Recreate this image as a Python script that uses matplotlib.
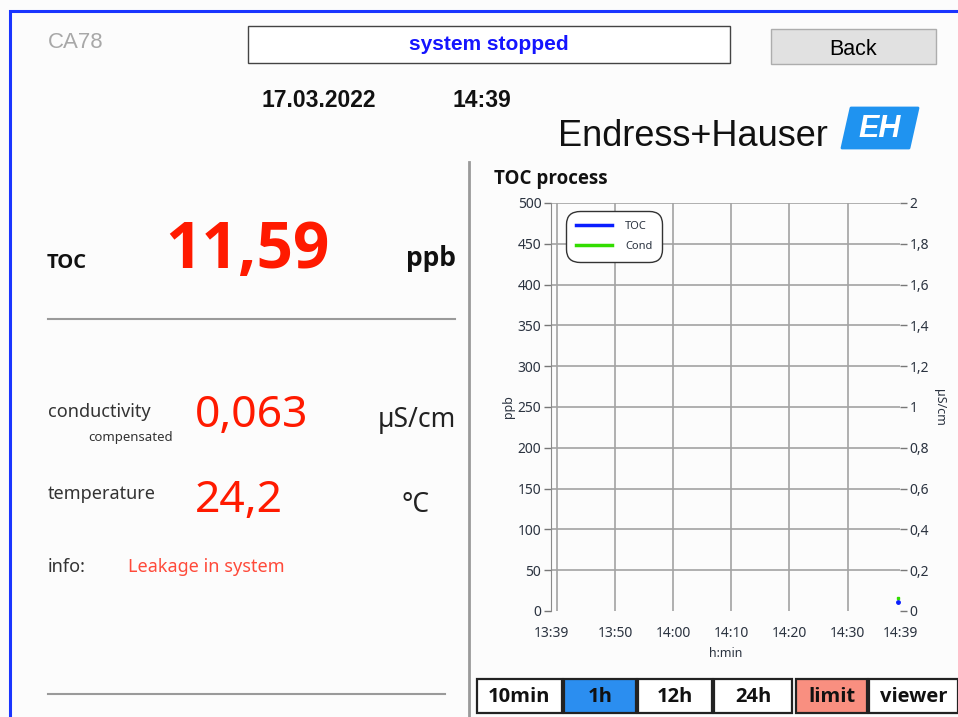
import numpy as np
import matplotlib
matplotlib.use('Agg')
import matplotlib.pyplot as plt
from matplotlib.patches import Rectangle, Polygon
from matplotlib.lines import Line2D
from matplotlib.ticker import FuncFormatter

W, H = 958, 717

# panel readings
device = 'CA78'
status = 'system stopped'
date_str = '17.03.2022'
clock_str = '14:39'
toc_value = '11,59'
toc_unit = 'ppb'
cond_value = '0,063'
cond_unit = 'µS/cm'
temp_value = '24,2'
temp_unit = '°C'
info_text = 'Leakage in system'

# trend chart
start_time = '13:39'
time_labels = ['13:39', '13:50', '14:00', '14:10', '14:20', '14:30', '14:39']
grid_times = ['13:40', '13:50', '14:00', '14:10', '14:20', '14:30']
sample_times = ['14:38:42']
toc_ppb = [11.59]
cond_us = [0.063]
ppb_ticks = [0, 50, 100, 150, 200, 250, 300, 350, 400, 450, 500]
us_ticks = [0, 0.2, 0.4, 0.6, 0.8, 1.0, 1.2, 1.4, 1.6, 1.8, 2.0]

buttons = ['10min', '1h', '12h', '24h', 'limit', 'viewer']
button_fill = ['white', '#2b8ef0', 'white', 'white', '#f98f80', 'white']

UI = 'Noto Sans'
UIB = ['Open Sans', 'DejaVu Sans']
WIN = 'Liberation Sans'


def minutes(t):
    parts = [int(p) for p in t.split(':')]
    while len(parts) < 3:
        parts.append(0)
    h0, m0 = [int(p) for p in start_time.split(':')]
    return (parts[0] - h0) * 60 + (parts[1] - m0) + parts[2] / 60


def comma(v, pos=None):
    s = ('%.1f' % v).rstrip('0').rstrip('.')
    return s.replace('.', ',')


fig = plt.figure(figsize=(W / 100, H / 100), dpi=100, facecolor='#fcfcfc')
bg = fig.add_axes([0, 0, 1, 1])
bg.set_xlim(0, W)
bg.set_ylim(H, 0)
bg.axis('off')

# frame and separators
bg.plot([10, 10, W], [H, 11, 11], color='#1a35ff', lw=2.2, solid_joinstyle='miter')
bg.plot([469, 469], [162, H], color='#9a9a9a', lw=2)
bg.plot([48, 455], [319, 319], color='#9a9a9a', lw=1.5)
bg.plot([48, 445], [694, 694], color='#9a9a9a', lw=1.5)

# header
bg.text(48, 48, device, family=WIN, fontsize=16, color='#a8a8a8')
bg.add_patch(Rectangle((248, 26), 482, 37, facecolor='white', edgecolor='#444444', lw=1))
bg.text(489, 50, status, family=WIN, fontsize=15, fontweight='bold', color='#1515ff', ha='center')
bg.add_patch(Rectangle((771, 29), 165, 35, facecolor='#e1e1e1', edgecolor='#adadad', lw=1))
bg.text(853, 55, 'Back', family=WIN, fontsize=15.5, color='black', ha='center')
bg.text(262, 107, date_str, family=WIN, fontsize=16.5, fontweight='bold', color='#111111')
bg.text(453, 107, clock_str, family=WIN, fontsize=16.5, fontweight='bold', color='#111111')

# logo
bg.text(828, 146, 'Endress+Hauser', family=['Liberation Sans Narrow', WIN], fontsize=26,
        color='#111111', ha='right')
bg.add_patch(Polygon([(842, 148), (851, 108), (918, 108), (909, 148)], closed=True,
                     facecolor='#1f93f0', edgecolor='#1f93f0', lw=2, joinstyle='round'))
bg.text(880, 129, 'EH', family=WIN, fontsize=22, fontweight='bold', style='italic',
        color='white', ha='center', va='center')

# readings
bg.text(47, 268, 'TOC', family=UIB, fontsize=14.5, fontweight='bold', color='#111111')
bg.text(165, 268, toc_value, family=UIB, fontsize=46, fontweight='bold', color='#ff1a00')
bg.text(456, 266, toc_unit, family=UIB, fontsize=19, fontweight='bold', color='#111111', ha='right')
bg.text(48, 417, 'conductivity', family=UI, fontsize=13, color='#333333')
bg.text(88, 441, 'compensated', family=UI, fontsize=9.5, color='#333333')
bg.text(195, 427, cond_value, family=UI, fontsize=32, color='#ff1a00')
bg.text(456, 427, cond_unit, family=UI, fontsize=19, color='#222222', ha='right')
bg.text(48, 499, 'temperature', family=UI, fontsize=13, color='#333333')
bg.text(195, 512, temp_value, family=UI, fontsize=32, color='#ff1a00')
bg.text(430, 512, temp_unit, family=UI, fontsize=19, color='#222222', ha='right')
bg.text(48, 572, 'info:', family=UI, fontsize=13, color='#333333')
bg.text(128, 572, info_text, family=UI, fontsize=13, color='#ff4a3a')

# buttons
edges = [477, 564, 638, 714, 796, 869, 960]
for i, name in enumerate(buttons):
    x0, x1 = edges[i], edges[i + 1] - 2
    if i == 3:
        x1 = 792
    bg.add_patch(Rectangle((x0, 679), x1 - x0, 34, facecolor=button_fill[i],
                           edgecolor='#222222', lw=1.6))
    bg.text((x0 + min(x1, W)) / 2, 697, name, family=UIB, fontsize=14.5, fontweight='bold',
            color='#111111', ha='center', va='center')

# chart
bg.text(494, 184, 'TOC process', family=UIB, fontsize=13.5, fontweight='bold', color='#111111')
ax = fig.add_axes([551 / W, 1 - 611 / H, (900 - 551) / W, (611 - 203) / H])
ax.set_facecolor('none')
ax.set_xlim(0, 60)
ax.set_ylim(0, 500)
ax.xaxis.remove_overlapping_locs = False
ax.set_xticks([minutes(t) for t in time_labels])
ax.set_xticklabels(time_labels)
ax.set_xticks([minutes(t) for t in grid_times], minor=True)
ax.set_yticks(ppb_ticks)
ax.grid(which='minor', axis='x', color='#a3a3a3', lw=1.2)
ax.grid(which='major', axis='y', color='#a3a3a3', lw=1.2)
ax.get_ygridlines()[0].set_visible(False)
for s in ['top', 'right', 'bottom']:
    ax.spines[s].set_visible(False)
ax.spines['left'].set_color('#8a8a8a')
ax.tick_params(axis='x', which='both', length=0, pad=11, labelsize=10, labelcolor='#2b3340')
ax.tick_params(axis='y', length=5, width=1, color='#777777', pad=2, labelsize=10,
               labelcolor='#2b3340')
for lab in ax.get_xticklabels() + ax.get_yticklabels():
    lab.set_family(UI)
ax.set_xlabel('h:min', family=UI, fontsize=9, color='#2b3340', labelpad=4)
ax.set_ylabel('ppb', family=UI, fontsize=9, color='#2b3340', labelpad=2)

ax2 = ax.twinx()
ax2.set_ylim(0, 2)
ax2.set_yticks(us_ticks)
ax2.yaxis.set_major_formatter(FuncFormatter(comma))
for s in ax2.spines.values():
    s.set_visible(False)
ax2.tick_params(axis='y', length=5, width=1, color='#777777', pad=2, labelsize=10,
                labelcolor='#2b3340')
for lab in ax2.get_yticklabels():
    lab.set_family(UI)
ax2.set_ylabel(cond_unit, family=UI, fontsize=9, color='#2b3340', rotation=-90, labelpad=12)

t = [minutes(s) for s in sample_times]
ax.plot(t, toc_ppb, color='#0a1eff', lw=2, marker='o', ms=2.5, clip_on=False)
ax2.plot(t, cond_us, color='#33dd00', lw=2, marker='s', ms=2, clip_on=False)

handles = [Line2D([], [], color='#0a1eff', lw=2.5), Line2D([], [], color='#33dd00', lw=2.5)]
leg = ax2.legend(handles, ['TOC', 'Cond'], loc='upper left', bbox_to_anchor=(0.05, 0.975),
                 prop={'family': UI, 'size': 8}, frameon=True, fancybox=True,
                 edgecolor='#333333', facecolor='white', framealpha=1,
                 handlelength=3.2, borderpad=0.7, labelspacing=0.8, handletextpad=1.2,
                 borderaxespad=0)
leg.get_frame().set_boxstyle('round', pad=0.2, rounding_size=1.2)
for txt in leg.get_texts():
    txt.set_color('#2b3340')

fig.savefig('out.png', dpi=100, facecolor=fig.get_facecolor())
